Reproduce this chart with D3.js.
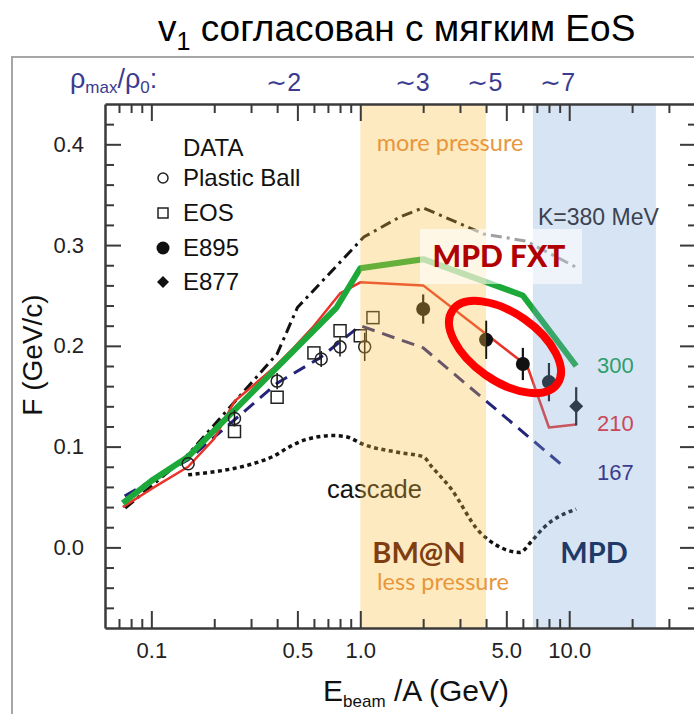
<!DOCTYPE html>
<html><head><meta charset="utf-8">
<script src="https://cdn.jsdelivr.net/npm/d3@7"></script>
<style>body{margin:0;background:#fff}svg{display:block}</style>
</head><body><svg id="c" width="694" height="714"></svg>
<script>
// ---------- data ----------
const energyDomain = [0.06, 40];
const flowDomain = [-0.08, 0.44];
const xMajorTicks = [0.1, 0.5, 1, 5, 10];
const xMajorLabels = ["0.1", "0.5", "1.0", "5.0", "10.0"];
const xMinorTicks = [0.07, 0.08, 0.09, 0.2, 0.3, 0.4, 0.6, 0.7, 0.8, 0.9, 2, 3, 4, 6, 7, 8, 9, 20, 30];
const yMajorTicks = [0, 0.1, 0.2, 0.3, 0.4];
const yMajorLabels = ["0.0", "0.1", "0.2", "0.3", "0.4"];
const yMinorTicks = [-0.06, -0.04, -0.02, 0.02, 0.04, 0.06, 0.08, 0.12, 0.14, 0.16, 0.18, 0.22, 0.24, 0.26, 0.28, 0.32, 0.34, 0.36, 0.38, 0.42];

const densityLabels = ["∼2", "∼3", "∼5", "∼7"];
const densityEnergies = [0.43, 1.77, 3.95, 8.8];

const bmnBand = [1.0, 4.0];
const mpdBand = [6.7, 26];

const plasticBallE = [0.15, 0.25, 0.4, 0.65, 0.8, 1.05];
const plasticBallF = [0.083, 0.128, 0.165, 0.187, 0.199, 0.199];
const plasticBallErr = [0.0, 0.008, 0.008, 0.008, 0.0095, 0.014];

const eosE = [0.25, 0.4, 0.6, 0.8, 1.0, 1.15];
const eosF = [0.115, 0.149, 0.193, 0.215, 0.21, 0.228];

const e895E = [2.0, 4.0, 6.0, 8.0];
const e895F = [0.2365, 0.206, 0.182, 0.164];
const e895Err = [0.0145, 0.019, 0.016, 0.019];

const e877E = [10.8];
const e877F = [0.140];
const e877Err = [0.019];

const k300E = [0.073, 0.1, 0.15, 0.77, 1.0, 2.0, 6.0, 10.8];
const k300F = [0.044, 0.066, 0.09, 0.238, 0.277, 0.286, 0.25, 0.18];

const k210E = [0.073, 0.1, 0.15, 0.2, 0.25, 0.38, 0.48, 0.59, 0.8, 1.0, 2.0, 6.3, 8.0, 10.8];
const k210F = [0.04, 0.058, 0.08, 0.108, 0.145, 0.177, 0.198, 0.218, 0.252, 0.263, 0.26, 0.18, 0.119, 0.122];

const k167E = [0.0745, 0.15, 0.4, 0.64, 1.0, 2.0, 9.2];
const k167F = [0.051, 0.087, 0.163, 0.188, 0.22, 0.198, 0.082];

const k380E = [0.075, 0.145, 0.4, 0.5, 1.04, 1.55, 2.0, 3.9, 6.2, 10.8];
const k380F = [0.039, 0.089, 0.192, 0.238, 0.308, 0.328, 0.337, 0.311, 0.304, 0.278];

const cascadeE = [0.15, 0.38, 0.46, 0.55, 0.74, 0.85, 1.04, 1.55, 2.0, 2.2, 2.7, 3.7, 4.5, 5.8, 6.6, 7.5, 10.8];
const cascadeF = [0.072, 0.09, 0.1, 0.107, 0.111, 0.11, 0.102, 0.094, 0.09, 0.08, 0.059, 0.016, 0.002, -0.005, 0.006, 0.019, 0.038];

const kLabels = ["300", "210", "167"];

// ---------- drawing ----------
const svg = d3.select("#c");
const x = d3.scaleLog().domain(energyDomain).range([105, 695]);
const y = d3.scaleLinear().domain(flowDomain).range([628, 104]);
const AX = "#3a3a3a";
const SANS = "'Liberation Sans', Arial, sans-serif";
const CAL = "Lato, 'Open Sans', sans-serif";

// outer frame
svg.append("rect").attr("x", 12).attr("y", 57).attr("width", 700).attr("height", 700)
  .attr("fill", "none").attr("stroke", "#a6a6a6").attr("stroke-width", 2);

// title
const title = svg.append("text").attr("x", 158).attr("y", 41)
  .attr("font-family", SANS).attr("font-size", 37).attr("fill", "#000");
title.append("tspan").text("v");
title.append("tspan").attr("font-size", 25).attr("dy", 9).text("1");
title.append("tspan").attr("dy", -9).text(" согласован с мягким EoS");

// density labels
const rho = svg.append("text").attr("x", 70).attr("y", 88)
  .attr("font-family", SANS).attr("font-size", 27).attr("fill", "#3b3b8f");
rho.append("tspan").text("ρ");
rho.append("tspan").attr("font-size", 17).attr("dy", 5).text("max");
rho.append("tspan").attr("dy", -5).text("/ρ");
rho.append("tspan").attr("font-size", 17).attr("dy", 5).text("0");
rho.append("tspan").attr("dy", -5).text(":");
svg.append("g").selectAll("text").data(densityLabels).join("text")
  .attr("x", (d, i) => x(densityEnergies[i])).attr("y", 91)
  .attr("text-anchor", "middle").attr("font-family", SANS).attr("font-size", 25)
  .attr("fill", "#3b3b8f").text(d => d);

// line generator
const line = d3.line().x(d => x(d[0])).y(d => y(d[1]));
const zip = (a, b) => a.map((v, i) => [v, b[i]]);
const plot = svg.append("g");

plot.append("path").attr("d", d3.line().x(d => x(d[0])).y(d => y(d[1])).curve(d3.curveMonotoneX)(zip(cascadeE, cascadeF)))
  .attr("fill", "none").attr("stroke", "#111").attr("stroke-width", 3.5).attr("stroke-dasharray", "4,3.5");
plot.append("path").attr("d", line(zip(k380E, k380F)))
  .attr("fill", "none").attr("stroke", "#111").attr("stroke-width", 3).attr("stroke-dasharray", "11,5,3,5");
plot.append("path").attr("d", line(zip(k167E, k167F)))
  .attr("fill", "none").attr("stroke", "#23237a").attr("stroke-width", 3).attr("stroke-dasharray", "13,8");
plot.append("path").attr("d", line(zip(k210E, k210F)))
  .attr("fill", "none").attr("stroke", "#e8342a").attr("stroke-width", 2.5).attr("stroke-linejoin", "round");
plot.append("path").attr("d", line(zip(k300E, k300F)))
  .attr("fill", "none").attr("stroke", "#1da83a").attr("stroke-width", 6).attr("stroke-linejoin", "round");

// data markers
function errBars(E, F, err, w) {
  plot.append("g").selectAll("line").data(E).join("line")
    .attr("x1", d => x(d)).attr("x2", d => x(d))
    .attr("y1", (d, i) => y(F[i] - err[i])).attr("y2", (d, i) => y(F[i] + err[i]))
    .attr("stroke", "#111").attr("stroke-width", w);
}
errBars(plasticBallE, plasticBallF, plasticBallErr, 1.5);
plot.append("g").selectAll("circle").data(plasticBallE).join("circle")
  .attr("cx", d => x(d)).attr("cy", (d, i) => y(plasticBallF[i])).attr("r", 6)
  .attr("fill", "none").attr("stroke", "#222").attr("stroke-width", 1.5);
plot.append("g").selectAll("rect").data(eosE).join("rect")
  .attr("x", d => x(d) - 6).attr("y", (d, i) => y(eosF[i]) - 6).attr("width", 12).attr("height", 12)
  .attr("fill", "none").attr("stroke", "#222").attr("stroke-width", 1.5);
errBars(e895E, e895F, e895Err, 2.2);
plot.append("g").selectAll("circle").data(e895E).join("circle")
  .attr("cx", d => x(d)).attr("cy", (d, i) => y(e895F[i])).attr("r", 7).attr("fill", "#111");
errBars(e877E, e877F, e877Err, 2.2);
plot.append("g").selectAll("path").data(e877E).join("path")
  .attr("d", (d, i) => { const cx = x(d), cy = y(e877F[i]); return `M${cx},${cy-7}L${cx+7},${cy}L${cx},${cy+7}L${cx-7},${cy}Z`; })
  .attr("fill", "#111");

// legend
const lg = svg.append("g").attr("font-family", SANS).attr("font-size", 24).attr("fill", "#111");
lg.append("text").attr("x", 183).attr("y", 156).text("DATA");
const legendNames = ["Plastic Ball", "EOS", "E895", "E877"];
const legendY = [178, 213, 248, 282];
lg.selectAll("text.it").data(legendNames).join("text").attr("class", "it")
  .attr("x", 183).attr("y", (d, i) => legendY[i] + 8).text(d => d);
lg.append("circle").attr("cx", 163).attr("cy", legendY[0]).attr("r", 5).attr("fill", "none").attr("stroke", "#222").attr("stroke-width", 1.5);
lg.append("rect").attr("x", 158).attr("y", legendY[1] - 5).attr("width", 10).attr("height", 10).attr("fill", "none").attr("stroke", "#222").attr("stroke-width", 1.5);
lg.append("circle").attr("cx", 163).attr("cy", legendY[2]).attr("r", 6.5).attr("fill", "#111");
lg.append("path").attr("d", `M163,${legendY[3]-6}L169,${legendY[3]}L163,${legendY[3]+6}L157,${legendY[3]}Z`).attr("fill", "#111");

svg.append("text").attr("x", 327).attr("y", 498).attr("font-family", SANS).attr("font-size", 25.5)
  .attr("fill", "#111").text("cascade");

// translucent bands on top
svg.append("rect").attr("x", x(bmnBand[0])).attr("y", y(flowDomain[1]))
  .attr("width", x(bmnBand[1]) - x(bmnBand[0])).attr("height", y(flowDomain[0]) - y(flowDomain[1]))
  .attr("fill", "#f8c040").attr("opacity", 0.33);
svg.append("rect").attr("x", x(mpdBand[0])).attr("y", y(flowDomain[1]))
  .attr("width", x(mpdBand[1]) - x(mpdBand[0])).attr("height", y(flowDomain[0]) - y(flowDomain[1]))
  .attr("fill", "#7aa6d6").attr("opacity", 0.3);

// axes
function styleAxis(g) {
  g.selectAll("path.domain").attr("stroke", AX).attr("stroke-width", 2.5);
  g.selectAll(".tick line").attr("stroke", AX).attr("stroke-width", 2);
  g.selectAll(".tick text").attr("font-family", SANS).attr("font-size", 22).attr("fill", "#222");
}
const fx = (v) => xMajorLabels[xMajorTicks.indexOf(v)];
const fy = (v) => yMajorLabels[yMajorTicks.indexOf(v)];
svg.append("g").attr("transform", "translate(0,628)")
  .call(d3.axisBottom(x).tickValues(xMajorTicks).tickFormat(fx).tickSize(-17).tickPadding(14).tickSizeOuter(0)).call(styleAxis);
svg.append("g").attr("transform", "translate(0,628)")
  .call(d3.axisBottom(x).tickValues(xMinorTicks).tickFormat("").tickSize(-9)).call(styleAxis).select(".domain").remove();
svg.append("g").attr("transform", "translate(0,104)")
  .call(d3.axisTop(x).tickValues(xMajorTicks).tickFormat("").tickSize(-17).tickSizeOuter(0)).call(styleAxis);
svg.append("g").attr("transform", "translate(0,104)")
  .call(d3.axisTop(x).tickValues(xMinorTicks).tickFormat("").tickSize(-9)).call(styleAxis).select(".domain").remove();
svg.append("g").attr("transform", "translate(105,0)")
  .call(d3.axisLeft(y).tickValues(yMajorTicks).tickFormat(fy).tickSize(-16).tickPadding(21).tickSizeOuter(0)).call(styleAxis);
svg.append("g").attr("transform", "translate(105,0)")
  .call(d3.axisLeft(y).tickValues(yMinorTicks).tickFormat("").tickSize(-9)).call(styleAxis).select(".domain").remove();
svg.append("g").attr("transform", "translate(695,0)")
  .call(d3.axisRight(y).tickValues(yMajorTicks).tickFormat("").tickSize(-15).tickSizeOuter(0)).call(styleAxis);
svg.append("g").attr("transform", "translate(695,0)")
  .call(d3.axisRight(y).tickValues(yMinorTicks).tickFormat("").tickSize(-7)).call(styleAxis).select(".domain").remove();

// axis titles
svg.append("text").attr("transform", "translate(42,355) rotate(-90)").attr("text-anchor", "middle")
  .attr("font-family", SANS).attr("font-size", 28).attr("fill", "#111").text("F (GeV/c)");
const xt = svg.append("text").attr("x", 323).attr("y", 701).attr("font-family", SANS).attr("font-size", 30).attr("fill", "#111");
xt.append("tspan").text("E");
xt.append("tspan").attr("font-size", 17).attr("dy", 6).text("beam");
xt.append("tspan").attr("dy", -6).text(" /A (GeV)");

// MPD FXT box
svg.append("rect").attr("x", 420).attr("y", 229).attr("width", 162).attr("height", 55)
  .attr("fill", "#fff").attr("opacity", 0.6);

// annotations
const ann = svg.append("g");
ann.append("text").attr("x", 450).attr("y", 151).attr("text-anchor", "middle").attr("font-family", CAL)
  .attr("font-size", 23.5).attr("fill", "#e8963c").text("more pressure");
ann.append("text").attr("x", 443).attr("y", 590).attr("text-anchor", "middle").attr("font-family", CAL)
  .attr("font-size", 23.5).attr("fill", "#e8963c").text("less pressure");
ann.append("text").attr("x", 419).attr("y", 563).attr("text-anchor", "middle").attr("font-family", CAL)
  .attr("font-weight", "bold").attr("font-size", 29).attr("fill", "#7f3d12").text("BM@N");
ann.append("text").attr("x", 594).attr("y", 563).attr("text-anchor", "middle").attr("font-family", CAL)
  .attr("font-weight", "bold").attr("font-size", 29).attr("fill", "#1f3a68").text("MPD");
ann.append("text").attr("x", 499).attr("y", 267).attr("text-anchor", "middle").attr("font-family", CAL)
  .attr("font-weight", 900).attr("font-size", 30).attr("fill", "#b00000").text("MPD FXT");
ann.append("text").attr("x", 538).attr("y", 225).attr("font-family", SANS)
  .attr("font-size", 23).attr("fill", "#3c4250").text("K=380 MeV");
const kColors = ["#2e9e6b", "#c8485a", "#3c3c8c"];
ann.selectAll("text.k").data(kLabels).join("text").attr("class", "k")
  .attr("x", 597).attr("y", (d, i) => [373, 431, 480][i])
  .attr("font-family", SANS).attr("font-size", 22).attr("fill", (d, i) => kColors[i]).text(d => d);

// red ellipse
svg.append("ellipse").attr("cx", 505).attr("cy", 347).attr("rx", 64).attr("ry", 34)
  .attr("transform", "rotate(35,505,347)").attr("fill", "none").attr("stroke", "#ff0000").attr("stroke-width", 8);
</script></body></html>
